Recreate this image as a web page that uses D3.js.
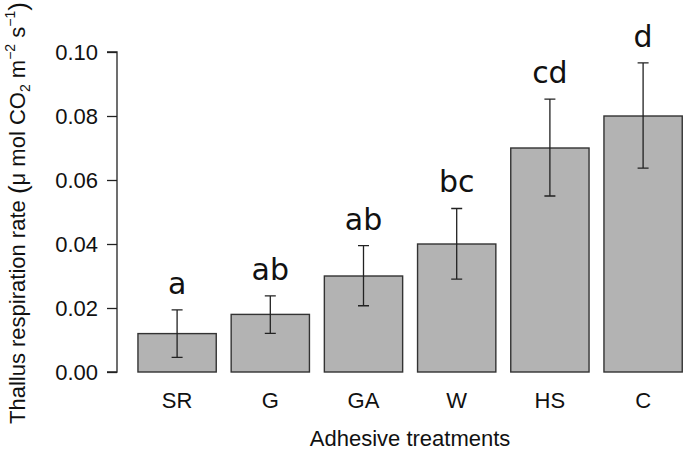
<!DOCTYPE html>
<html>
<head>
<meta charset="utf-8">
<script src="https://cdn.jsdelivr.net/npm/d3@7"></script>
<style>
  body { margin: 0; background: #fff; }
  svg { display: block; }
</style>
</head>
<body>
<svg id="chart" width="685" height="450"></svg>
<script>
// treatments and their mean respiration rates
const treatments = ["SR", "G", "GA", "W", "HS", "C"];
const means = [0.012, 0.018, 0.030, 0.040, 0.070, 0.080];
// error bar ends
const lower = [0.0046, 0.0121, 0.0207, 0.0290, 0.0550, 0.0637];
const upper = [0.0194, 0.0238, 0.0395, 0.0511, 0.0853, 0.0966];
// letters from the post-hoc test
const groups = ["a", "ab", "ab", "bc", "cd", "d"];
const yTicks = [0, 0.02, 0.04, 0.06, 0.08, 0.10];

const svg = d3.select("#chart");

let x = d3.scaleBand()
  .domain(treatments)
  .range([130.5, 689.7])
  .paddingInner(0.16)
  .paddingOuter(0.08);

let y = d3.scaleLinear()
  .domain([0, 0.10])
  .range([372, 52]);

const ink = "#222";
const sans = "Liberation Sans, Arial, sans-serif";

// ------
// y axis
let yAxis = svg.append("g")
  .attr("transform", "translate(117,0)")
  .call(d3.axisLeft(y).tickValues(yTicks).tickFormat(d3.format(".2f")).tickSize(10).tickPadding(9));

yAxis.select(".domain").attr("stroke", ink).attr("stroke-width", 1.3)
  .attr("d", "M-10," + y(0) + "H0V" + y(0.10) + "H-10");
yAxis.selectAll(".tick line").attr("stroke", ink).attr("stroke-width", 1.3);
yAxis.selectAll(".tick text")
  .attr("fill", "#111")
  .style("font-family", sans)
  .style("font-size", "22px");

// ------
// bars
svg.append("g")
  .selectAll("rect")
  .data(treatments)
  .enter()
  .append("rect")
  .attr("x", d => x(d))
  .attr("y", (d, i) => y(means[i]))
  .attr("width", x.bandwidth())
  .attr("height", (d, i) => y(0) - y(means[i]))
  .attr("fill", "#b3b3b3")
  .attr("stroke", "#333")
  .attr("stroke-width", 1.4);

// error bars
svg.append("g")
  .attr("stroke", ink)
  .attr("stroke-width", 1.3)
  .attr("fill", "none")
  .selectAll("path")
  .data(treatments)
  .enter()
  .append("path")
  .attr("d", (d, i) => {
    let cx = x(d) + x.bandwidth() / 2;
    let cap = 5.5;
    return "M" + (cx - cap) + "," + y(upper[i]) + "H" + (cx + cap)
      + "M" + cx + "," + y(upper[i]) + "V" + y(lower[i])
      + "M" + (cx - cap) + "," + y(lower[i]) + "H" + (cx + cap);
  });

// significance letters
svg.append("g")
  .selectAll("text")
  .data(treatments)
  .enter()
  .append("text")
  .attr("x", d => x(d) + x.bandwidth() / 2)
  .attr("y", (d, i) => y(upper[i]) - 16)
  .attr("text-anchor", "middle")
  .attr("fill", "#111")
  .style("font-family", "DejaVu Sans, sans-serif")
  .style("font-size", "30px")
  .text((d, i) => groups[i]);

// ------
// category labels
svg.append("g")
  .selectAll("text")
  .data(treatments)
  .enter()
  .append("text")
  .attr("x", d => x(d) + x.bandwidth() / 2)
  .attr("y", 408)
  .attr("text-anchor", "middle")
  .attr("fill", "#111")
  .style("font-family", sans)
  .style("font-size", "22px")
  .text(d => d);

// axis titles
svg.append("text")
  .attr("x", (x.range()[0] + x.range()[1]) / 2)
  .attr("y", 446)
  .attr("text-anchor", "middle")
  .attr("fill", "#111")
  .style("font-family", sans)
  .style("font-size", "22px")
  .text("Adhesive treatments");

let yTitle = svg.append("text")
  .attr("transform", "translate(25,424) rotate(-90)")
  .attr("fill", "#111")
  .style("font-family", sans)
  .style("font-size", "22px");

yTitle.append("tspan").text("Thallus respiration rate ");
yTitle.append("tspan").style("font-size", "26px").attr("dy", 2).text("(");
yTitle.append("tspan").attr("dy", -2).text("\u03bc mol CO");
yTitle.append("tspan").style("font-size", "14px").attr("dy", 5).text("2");
yTitle.append("tspan").attr("dy", -5).text(" m");
yTitle.append("tspan").style("font-size", "14px").attr("dy", -10).text("\u22122");
yTitle.append("tspan").attr("dy", 10).text(" s");
yTitle.append("tspan").style("font-size", "14px").attr("dy", -10).text("\u22121");
yTitle.append("tspan").style("font-size", "26px").attr("dy", 12).text(")");
</script>
</body>
</html>
